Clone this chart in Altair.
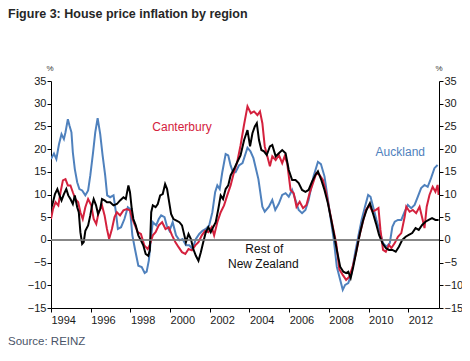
import altair as alt
import pandas as pd

# ---------------- data ----------------
auck_years = [1994.0, 1994.15, 1994.27, 1994.4, 1994.53, 1994.65, 1994.73, 1994.85, 1994.93, 1995.03,
              1995.1, 1995.2, 1995.32, 1995.43, 1995.57, 1995.73, 1995.87, 1995.98, 1996.12, 1996.23,
              1996.35, 1996.48, 1996.6, 1996.73, 1996.83, 1996.98, 1997.15, 1997.27, 1997.37, 1997.53,
              1997.7, 1997.87, 1997.98, 1998.1, 1998.23, 1998.4, 1998.57, 1998.72, 1998.82, 1998.93,
              1999.05, 1999.13, 1999.3, 1999.43, 1999.55, 1999.72, 1999.83, 1999.97, 2000.13, 2000.3,
              2000.47, 2000.63, 2000.8, 2000.97, 2001.13, 2001.3, 2001.47, 2001.63, 2001.8, 2001.97,
              2002.13, 2002.27, 2002.38, 2002.5, 2002.63, 2002.8, 2002.93, 2003.05, 2003.17, 2003.3,
              2003.47, 2003.65, 2003.9, 2004.05, 2004.2, 2004.45, 2004.65, 2004.77, 2004.98, 2005.15,
              2005.3, 2005.48, 2005.65, 2005.82, 2005.98, 2006.15, 2006.32, 2006.48, 2006.65, 2006.82,
              2006.98, 2007.23, 2007.45, 2007.6, 2007.78, 2007.95, 2008.1, 2008.25, 2008.4, 2008.57,
              2008.7, 2008.82, 2008.98, 2009.15, 2009.32, 2009.48, 2009.65, 2009.82, 2009.98, 2010.1,
              2010.23, 2010.4, 2010.57, 2010.73, 2010.9, 2011.07, 2011.2, 2011.32, 2011.48, 2011.65,
              2011.82, 2011.98, 2012.15, 2012.32, 2012.48, 2012.65, 2012.82, 2012.98, 2013.15, 2013.32,
              2013.48]
auck_values = [17.8, 19, 17.8, 21, 23.3, 22.2, 23.7, 26.6, 25.2, 23.7,
               19.3, 15.6, 12.7, 11.2, 10.9, 9.8, 10.9, 14.2, 19.3, 23.7,
               26.8, 23.3, 18.6, 14.2, 9.8, 9.4, 9.8, 6.1, 2.4, 2.8,
               4.6, 7.2, 6.8, 1, -2, -5.7, -6, -7.3, -7, -4.5,
               1, 3.9, 3.2, 4.6, 5.4, 5, 3.2, 2, 3.9, 1,
               -0.1, 0.2, -1.2, -1.2, -2, 0.2, 1.3, 2, 2.4, 3.2,
               6.1, 10.5, 12, 11.2, 14.9, 18.9, 18.6, 16.4, 14.9, 14.9,
               16.4, 16.9, 20.3, 19.5, 18, 13.4, 7.3, 6.2, 7.3, 8.8,
               6.6, 8, 9.9, 10.3, 9.5, 11, 8.8, 6.6, 5.9, 6.6,
               8.8, 14, 17.2, 16.7, 14, 9, 4.4, 0, -5.9, -8.8,
               -11, -9.9, -9.5, -7.3, -2.9, 0.7, 4.4, 7.3, 9.9, 9.5,
               7.3, 4.4, 1.8, -0.7, -1.5, -0.7, 2.9, 4, 4.4, 4.4,
               6.2, 7.7, 7, 7.7, 9.5, 11.4, 12.1, 11.7, 13.6, 15.8,
               16.5]

cant_years = [1994.0, 1994.1, 1994.23, 1994.37, 1994.48, 1994.6, 1994.73, 1994.85, 1994.98, 1995.1,
              1995.23, 1995.37, 1995.48, 1995.6, 1995.73, 1995.87, 1996.03, 1996.15, 1996.28, 1996.4,
              1996.57, 1996.7, 1996.82, 1996.93, 1997.07, 1997.2, 1997.32, 1997.48, 1997.65, 1997.82,
              1997.98, 1998.1, 1998.23, 1998.37, 1998.53, 1998.7, 1998.87, 1998.97, 1999.13, 1999.27,
              1999.43, 1999.6, 1999.77, 1999.93, 2000.1, 2000.27, 2000.43, 2000.6, 2000.77, 2000.93,
              2001.1, 2001.27, 2001.43, 2001.6, 2001.77, 2001.93, 2002.1, 2002.22, 2002.38, 2002.55,
              2002.72, 2002.88, 2003.05, 2003.22, 2003.38, 2003.55, 2003.72, 2003.9, 2004.07, 2004.23,
              2004.4, 2004.53, 2004.65, 2004.77, 2004.9, 2005.03, 2005.15, 2005.32, 2005.48, 2005.65,
              2005.77, 2005.9, 2006.07, 2006.23, 2006.37, 2006.53, 2006.7, 2006.87, 2007.03, 2007.2,
              2007.37, 2007.53, 2007.7, 2007.87, 2008.03, 2008.2, 2008.37, 2008.53, 2008.7, 2008.87,
              2009.03, 2009.2, 2009.37, 2009.53, 2009.7, 2009.87, 2010.03, 2010.2, 2010.37, 2010.5,
              2010.6, 2010.73, 2010.87, 2011.03, 2011.15, 2011.32, 2011.48, 2011.65, 2011.82, 2011.9,
              2012.07, 2012.23, 2012.4, 2012.57, 2012.73, 2012.82, 2012.93, 2013.07, 2013.23, 2013.37,
              2013.48, 2013.53]
cant_values = [4.6, 6.8, 8.3, 7.6, 10.5, 13.1, 13.4, 12, 12, 10.5,
               9, 8.3, 6.1, 4.6, 7.2, 9, 7.6, 4.6, 3.5, 6.1,
               7.6, 5.4, 2.4, 0.2, 2.4, 5, 6.1, 5.4, 6.5, 6.8,
               6.5, 4.6, 3.2, 1.7, 1.3, -1.2, -2, -1.2, 1, 1.7,
               3.2, 3.9, 2.4, 2.8, 1, -0.5, -1.6, -2.7, -3.1, -2,
               -2.3, -1.2, -0.5, 1, 2, 1.7, 2.8, 1, 3.9, 6.1,
               7.6, 9.8, 12, 14.9, 17.1, 20.8, 25.2, 29.4, 27.9, 28.3,
               27.5, 28.3, 25.7, 20.6, 18.4, 16.2, 18.4, 17.6, 18.7, 16.9,
               18.4, 16.9, 11, 10.3, 7.3, 8.4, 7, 7.7, 10.3, 12.5,
               14.7, 14.3, 13.2, 10.3, 6.6, 2.9, -0.7, -6.5, -7.7, -8.8,
               -8.1, -5.9, -2.9, 0.7, 3.7, 6.6, 7.7, 6.2, 6.6, 7,
               2.2, -2.2, -2.6, -1.1, -1.8, -0.7, 0.7, 1.5, 5.1, 7.3,
               6.2, 6.6, 5.9, 7.3, 4.4, 2.6, 7.3, 9.9, 11.7, 10.6,
               12.1, 9.9]

rest_years = [1994.0, 1994.1, 1994.2, 1994.32, 1994.43, 1994.53, 1994.65, 1994.77, 1994.87, 1994.98,
              1995.1, 1995.2, 1995.32, 1995.4, 1995.48, 1995.57, 1995.65, 1995.73, 1995.87, 1995.98,
              1996.07, 1996.15, 1996.27, 1996.37, 1996.48, 1996.57, 1996.7, 1996.82, 1996.98, 1997.15,
              1997.32, 1997.48, 1997.65, 1997.77, 1997.9, 1997.98, 1998.07, 1998.15, 1998.27, 1998.4,
              1998.53, 1998.65, 1998.77, 1998.9, 1998.98, 1999.05, 1999.13, 1999.27, 1999.38, 1999.5,
              1999.63, 1999.75, 1999.85, 1999.93, 2000.05, 2000.17, 2000.3, 2000.47, 2000.6, 2000.72,
              2000.8, 2000.93, 2001.05, 2001.17, 2001.3, 2001.43, 2001.55, 2001.67, 2001.8, 2001.93,
              2002.05, 2002.17, 2002.3, 2002.43, 2002.55, 2002.67, 2002.8, 2002.93, 2003.05, 2003.22,
              2003.38, 2003.55, 2003.73, 2003.9, 2004.03, 2004.15, 2004.27, 2004.37, 2004.48, 2004.6,
              2004.73, 2004.87, 2005.03, 2005.15, 2005.32, 2005.48, 2005.65, 2005.82, 2005.98, 2006.15,
              2006.32, 2006.48, 2006.65, 2006.82, 2006.98, 2007.15, 2007.32, 2007.45, 2007.62, 2007.78,
              2007.95, 2008.12, 2008.28, 2008.4, 2008.57, 2008.73, 2008.87, 2008.98, 2009.1, 2009.23,
              2009.4, 2009.57, 2009.73, 2009.9, 2010.07, 2010.2, 2010.37, 2010.53, 2010.7, 2010.87,
              2011.03, 2011.2, 2011.37, 2011.53, 2011.7, 2011.87, 2012.03, 2012.2, 2012.37, 2012.53,
              2012.7, 2012.87, 2013.03, 2013.2, 2013.37, 2013.53]
rest_values = [6.8, 8.3, 10.1, 11.2, 9.8, 8.7, 10.1, 11.2, 9.8, 9,
               7.9, 9.8, 7.2, 6.1, 1.7, -0.9, -0.5, 2, 3.2, 5.4,
               7.6, 9, 7.6, 5.7, 6.8, 9, 8.7, 8.3, 8.3, 7.6,
               7.9, 8.7, 9.4, 9, 12, 10.5, 6.8, 4.6, 3.2, 1,
               -0.1, -1.2, -3.1, -3.5, -2.3, 6.1, 7.6, 7.2, 7.9, 9.8,
               10.1, 12.3, 11.2, 9, 5.7, 4.6, 4.3, 3.9, 3.2, 1,
               -0.5, 1.3, 0.2, -2, -3.5, -4.6, -2.7, -0.5, 1.7, 2.8,
               1.7, 2.8, 3.9, 6.8, 9.8, 9, 11.2, 12, 14.2, 15.6,
               17.1, 18.6, 22, 24.2, 20.6, 23.5, 25, 25.7, 22, 19.8,
               19.5, 18.7, 20.6, 20.9, 18.4, 19.1, 19.8, 19.1, 15.4, 13.2,
               13.2, 12.5, 11, 10.6, 11, 12.8, 14.3, 15.1, 13.2, 11,
               8.1, 4.4, 0.7, -2.2, -5.9, -7, -7.3, -7, -8.4, -5.9,
               -2.2, 1.5, 4.4, 6.6, 8.1, 6.2, 3.7, 1.1, -0.7, -1.8,
               -2.2, -2.2, -2.6, -1.5, 0, 0.7, 1.1, 1.5, 2.6, 2.2,
               3.3, 4, 4.4, 4.8, 4.4, 4.4]

y_ticks = [-15, -10, -5, 0, 5, 10, 15, 20, 25, 30, 35]
x_ticks = [1994, 1996, 1998, 2000, 2002, 2004, 2006, 2008, 2010, 2012]

labels = ["Canterbury", "Auckland", "Rest of", "New Zealand"]
label_years = [2000.6, 2011.6, 2004.75, 2004.7]
label_values = [24.8, 19.4, -2.1, -5.3]
label_colors = ["#d4213d", "#4f81bd", "#111111", "#111111"]

title_text = "Figure 3: House price inflation by region"
source_text = "Source: REINZ"

# ---------------- chart ----------------
FONT = "Liberation Sans"
W, H = 388, 227
PAD_L = 43

xscale = alt.Scale(domain=[1994, 2013.55], nice=False, zero=False)
yscale = alt.Scale(domain=[-15, 35], nice=False, zero=False)

xaxis = alt.Axis(values=x_ticks, format="d", title=None, labelAlign="left", labelBaseline="top",
                 labelPadding=2, labelFontSize=11, labelColor="#1a1a1a", labelFont=FONT,
                 tickSize=4, tickColor="#000", domainColor="#000", grid=False, labelFlush=False,
                 labelOverlap=False)
yaxis_left = alt.Axis(values=y_ticks, title=None, orient="left", labelFontSize=11, labelColor="#1a1a1a",
                      labelFont=FONT, tickSize=4, tickColor="#000", domainColor="#000", grid=False,
                      labelPadding=1, labelFlush=False, labelOverlap=False)
yaxis_right = alt.Axis(values=y_ticks, title=None, orient="right", labelFontSize=11, labelColor="#1a1a1a",
                       labelFont=FONT, tickSize=4, tickColor="#000", domainColor="#000", grid=False,
                       labelPadding=1, labelFlush=False, labelOverlap=False)


def series_layer(years, values, color):
    df = pd.DataFrame({"year": years, "value": values})
    return alt.Chart(df).mark_line(color=color, strokeWidth=2, clip=True).encode(
        x=alt.X("year:Q", scale=xscale, axis=xaxis),
        y=alt.Y("value:Q", scale=yscale, axis=yaxis_left),
    )


auck = series_layer(auck_years, auck_values, "#4f81bd")
cant = series_layer(cant_years, cant_values, "#d4213d")
rest = series_layer(rest_years, rest_values, "#000000")

lab_df = pd.DataFrame({"label": labels, "year": label_years, "value": label_values, "color": label_colors})
lab = alt.Chart(lab_df).mark_text(font=FONT, fontSize=12, align="center", baseline="middle").encode(
    x=alt.X("year:Q", scale=xscale, axis=xaxis),
    y=alt.Y("value:Q", scale=yscale, axis=yaxis_left),
    text="label:N",
    color=alt.Color("color:N", scale=None),
)

zero_df = pd.DataFrame({"z": [0]})
zero_rule = alt.Chart(zero_df).mark_rule(color="#7f7f7f", strokeWidth=1.5).encode(
    y=alt.Y("z:Q", scale=yscale, axis=yaxis_right),
)


def fixed_text(txt, px, py, size, color, bold=False, align="left"):
    return alt.Chart(alt.Data(values=[{"t": txt}])).mark_text(
        font=FONT, fontSize=size, color=color, align=align, baseline="middle",
        fontWeight="bold" if bold else "normal", clip=False,
    ).encode(x=alt.value(px), y=alt.value(py), text="t:N")


title = fixed_text(title_text, -PAD_L, -67, 12.5, "#262626", bold=True)
source = fixed_text(source_text, -PAD_L, 261, 11.5, "#4a5468")
pct_l = fixed_text("%", -1, -12, 8, "#333333", align="center")
pct_r = fixed_text("%", W, -12, 8, "#333333", align="center")

inner = alt.layer(zero_rule.encode(y=alt.Y("z:Q", scale=yscale, axis=yaxis_left)), auck, cant, rest, lab)
right = zero_rule

chart = alt.layer(inner, right, title, source, pct_l, pct_r).resolve_scale(y="independent").properties(
    width=W, height=H,
    autosize=alt.AutoSizeParams(type="none"),
    padding={"left": PAD_L, "top": 73, "right": 23, "bottom": 40},
    background="white",
).configure_view(stroke=None)

chart.save("out.html", embed_options={"renderer": "svg", "actions": False})
